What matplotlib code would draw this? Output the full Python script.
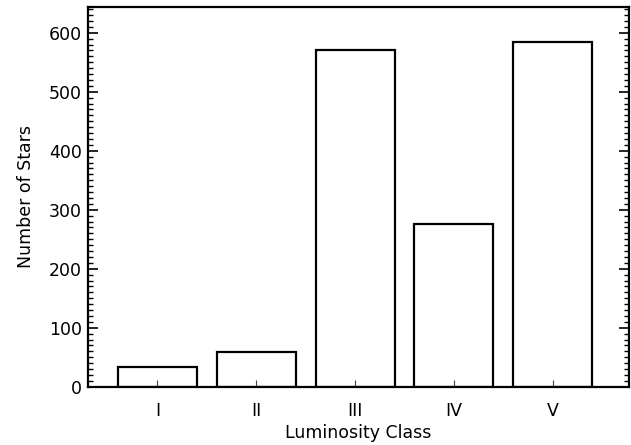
import matplotlib.pyplot as plt
from matplotlib.ticker import MultipleLocator

# Star counts per luminosity class
classes = ['I', 'II', 'III', 'IV', 'V']
counts = [34, 59, 570, 275, 585]

positions = list(range(1, len(classes) + 1))

fig = plt.figure(figsize=(6.31, 4.45), dpi=100)
ax = fig.add_axes([0.1387, 0.131, 0.858, 0.853])

ax.bar(positions, counts, width=0.8, facecolor='white', edgecolor='black',
       linewidth=1.6)

ax.set_xlim(0.293, 5.77)
ax.set_ylim(0, max(counts) * 1.1)

ax.set_xticks(positions)
ax.set_xticklabels(classes)
ax.yaxis.set_major_locator(MultipleLocator(100))
ax.yaxis.set_minor_locator(MultipleLocator(10))

fs = 12.5
ax.tick_params(axis='x', direction='in', length=5, width=0.8, pad=11,
               labelsize=fs, color='#444444')
ax.tick_params(axis='y', which='major', direction='in', length=7, width=1.2,
               right=True, labelsize=fs, pad=4)
ax.tick_params(axis='y', which='minor', direction='in', length=3.5, width=1.0,
               right=True)

for side in ax.spines.values():
    side.set_linewidth(1.6)

ax.set_xlabel('Luminosity Class', fontsize=fs, labelpad=3)
ax.set_ylabel('Number of Stars', fontsize=fs, labelpad=10)

plt.savefig('out.png', dpi=100)
